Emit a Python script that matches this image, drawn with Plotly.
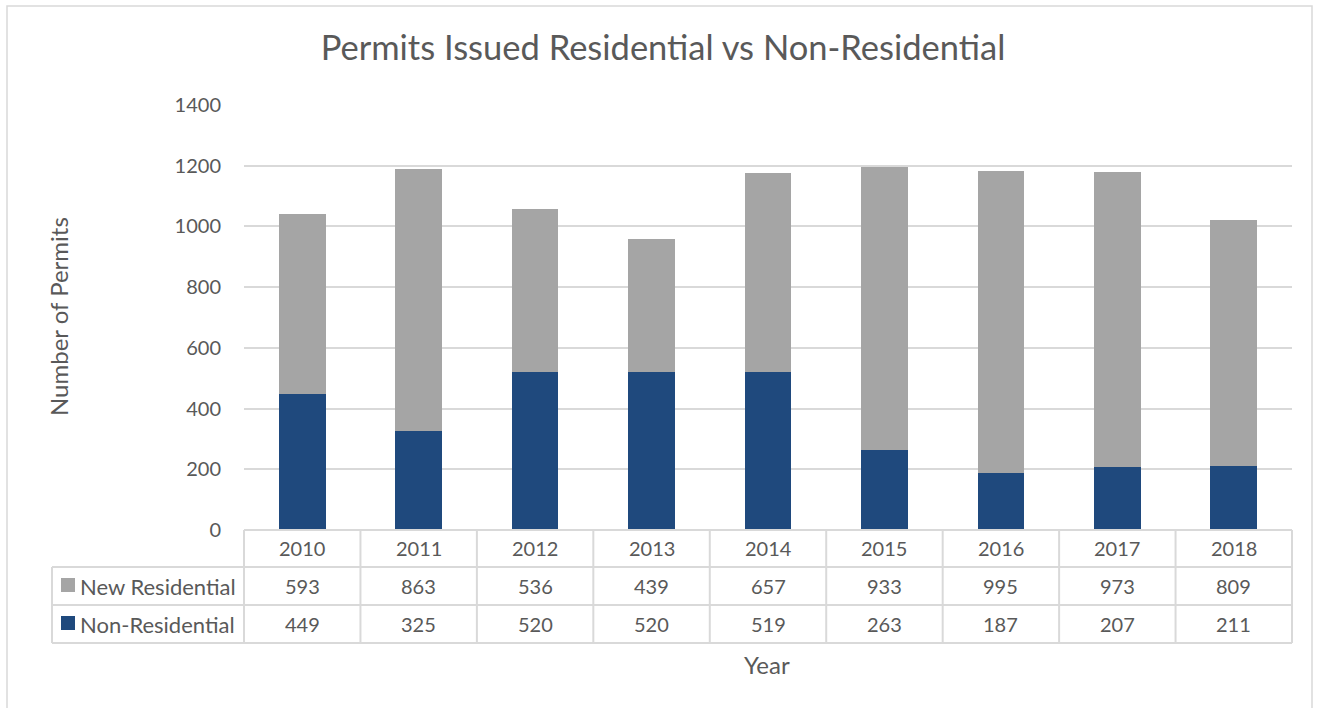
import plotly.graph_objects as go

years = ["2010", "2011", "2012", "2013", "2014", "2015", "2016", "2017", "2018"]
new_residential = [593, 863, 536, 439, 657, 933, 995, 973, 809]
non_residential = [449, 325, 520, 520, 519, 263, 187, 207, 211]
y_ticks = [0, 200, 400, 600, 800, 1000, 1200, 1400]

GREY = "#a5a5a5"
BLUE = "#1f497d"
TXT = "#595959"
LINE = "#d9d9d9"
FONT = "Lato"

W, H = 1318, 708
L, R, T, B = 244, 1292, 105, 530


def px_x(px):
    return (px - L) / (R - L)


def px_y(py):
    return (B - py) / (B - T)


fig = go.Figure()
fig.add_trace(go.Bar(x=years, y=non_residential, name="Non-Residential",
                     marker=dict(color=BLUE, line=dict(width=0))))
fig.add_trace(go.Bar(x=years, y=new_residential, name="New Residential",
                     marker=dict(color=GREY, line=dict(width=0))))

shapes = []
annotations = []

# outer chart border
shapes.append(dict(type="rect", xref="paper", yref="paper",
                   x0=px_x(7), x1=px_x(1312), y0=px_y(720), y1=px_y(6),
                   line=dict(color=LINE, width=1.5), fillcolor="rgba(0,0,0,0)", layer="below"))

# data table grid
row_y = [530, 567, 605, 643]
left_x = 52
for i, yy in enumerate(row_y):
    x0 = px_x(L) if i == 0 else px_x(left_x)
    shapes.append(dict(type="line", xref="paper", yref="paper",
                       x0=x0, x1=1, y0=px_y(yy), y1=px_y(yy),
                       line=dict(color=LINE, width=2)))
shapes.append(dict(type="line", xref="paper", yref="paper",
                   x0=px_x(left_x), x1=px_x(left_x), y0=px_y(567), y1=px_y(643),
                   line=dict(color=LINE, width=2)))
for i in range(len(years) + 1):
    xx = i / len(years)
    shapes.append(dict(type="line", xref="paper", yref="paper",
                       x0=xx, x1=xx, y0=px_y(530), y1=px_y(643),
                       line=dict(color=LINE, width=2)))

# table text
num_font = dict(size=20, color=TXT, family=FONT)
for i, yr in enumerate(years):
    for yc, txt in [(548, yr), (586, str(new_residential[i])), (624, str(non_residential[i]))]:
        annotations.append(dict(x=i, xref="x", y=px_y(yc), yref="paper", text=txt,
                                xanchor="center", yanchor="middle",
                                showarrow=False, font=num_font))

# legend keys in table
for (yc, col, name) in [(585, GREY, "New Residential"), (623, BLUE, "Non-Residential")]:
    shapes.append(dict(type="rect", xref="paper", yref="paper",
                       x0=px_x(61), x1=px_x(75), y0=px_y(yc + 7), y1=px_y(yc - 7),
                       fillcolor=col, line=dict(width=0)))
    annotations.append(dict(x=px_x(78), xref="paper", y=px_y(yc + 1), yref="paper", text=name,
                            xanchor="left", yanchor="middle", showarrow=False,
                            font=dict(size=22, color=TXT, family=FONT)))

# axis titles
annotations.append(dict(x=px_x(58), xref="paper", y=px_y(317), yref="paper",
                        text="Number of Permits", textangle=-90, showarrow=False,
                        xanchor="center", yanchor="middle",
                        font=dict(size=24, color=TXT, family=FONT)))
annotations.append(dict(x=px_x(767), xref="paper", y=px_y(664), yref="paper",
                        text="Year", showarrow=False, xanchor="center", yanchor="middle",
                        font=dict(size=24, color=TXT, family=FONT)))

fig.update_layout(
    width=W, height=H,
    barmode="stack", bargap=0.6,
    showlegend=False,
    plot_bgcolor="white", paper_bgcolor="white",
    margin=dict(l=L, r=W - R, t=T, b=H - B),
    title=dict(text="Permits Issued Residential vs Non-Residential",
               x=663 / W, xanchor="center",
               y=1 - 48 / H, yanchor="middle",
               font=dict(size=34.5, color=TXT, family=FONT)),
    xaxis=dict(showticklabels=False, showgrid=False, zeroline=False,
               showline=False, range=[-0.5, 8.5]),
    yaxis=dict(range=[0, 1400], tickvals=y_ticks, showgrid=True, gridcolor=LINE,
               gridwidth=1.5, zeroline=False, showline=False, ticks="",
               ticklabelstandoff=22,
               tickfont=dict(size=20, color=TXT, family=FONT)),
    shapes=shapes,
    annotations=annotations,
)

fig.write_html("out.html", config={"displayModeBar": False},
               post_script="document.body.style.margin='0';")
